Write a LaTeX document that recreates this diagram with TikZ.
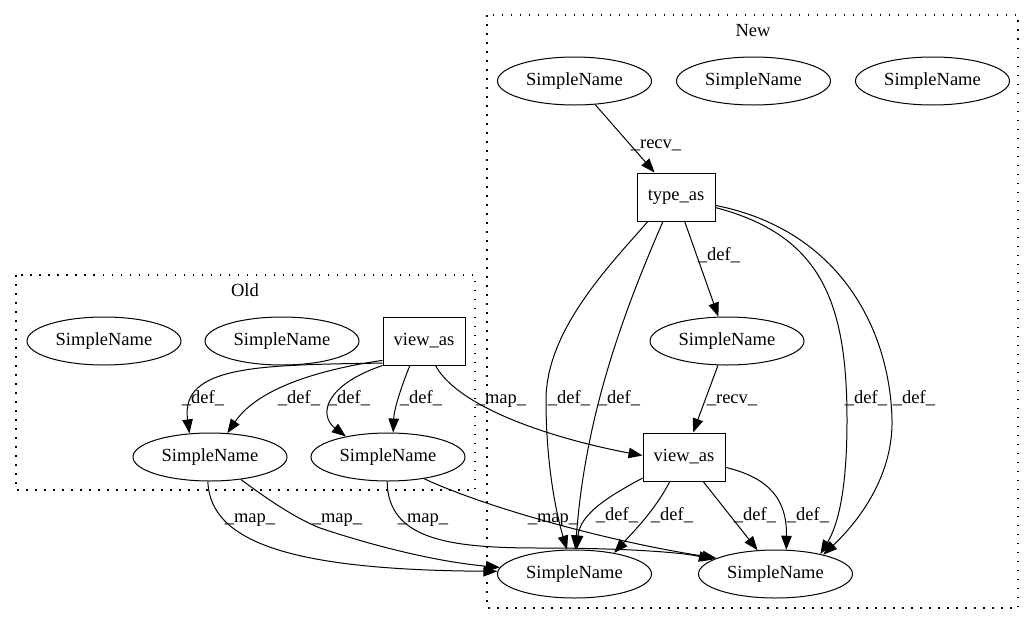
\documentclass[tikz,border=0pt]{standalone}
\usepackage{fontspec}
\setmainfont{Liberation Serif}
\usetikzlibrary{shapes.geometric,arrows.meta}
\begin{document}
\begin{tikzpicture}[x=1pt,y=-1pt,
  every node/.style={font=\fontsize{18.5}{22}\selectfont},
  sn/.style={draw,ellipse,minimum width=154pt,minimum height=48pt,inner sep=0pt,line width=1pt},
  opbox/.style={draw,rectangle,minimum height=48pt,inner sep=0pt,line width=1pt},
  edge/.style={line width=1pt,-{Triangle[length=14pt,width=10.5pt]}},
  lbl/.style={anchor=base,inner sep=0pt},
  cluster/.style={draw,line width=1.1pt,dash pattern=on 1.5pt off 7.5pt},
]
\useasboundingbox (0,0) rectangle (1036,624);
% clusters
\draw[cluster] (16,275) rectangle (475,490);
\node[lbl] (oldlbl) at (245,296) {Old};
\draw[cluster] (487,15) rectangle (1018,608);
\node[lbl] (newlbl) at (753,36) {New};
% Old nodes
\node[sn] (o1) at (104,341) {SimpleName};
\node[sn] (o2) at (282,341) {SimpleName};
\node[opbox,minimum width=82pt] (ov) at (424,341) {view\_as};
\node[sn] (oa) at (210,457) {SimpleName};
\node[sn] (ob) at (388,457) {SimpleName};
% New nodes
\node[sn] (n1) at (574.5,81) {SimpleName};
\node[sn] (n2) at (753.5,81) {SimpleName};
\node[sn] (n3) at (932.5,81) {SimpleName};
\node[opbox,minimum width=78pt] (nt) at (676,197) {type\_as};
\node[sn] (nm) at (727,341) {SimpleName};
\node[opbox,minimum width=82pt] (nv) at (684,457) {view\_as};
\node[sn] (nbl) at (574.5,574) {SimpleName};
\node[sn] (nbr) at (775.5,574) {SimpleName};
% Old edges
\draw[edge] (ov.208) .. controls (260,365) and (180,365) .. (oa.131);
\node[lbl] (l1) at (203,403) {\_def\_};
\draw[edge] (ov.205) .. controls (330,368) and (260,385) .. (oa.54);
\node[lbl] (l2) at (299,403) {\_def\_};
\draw[edge] (ov.south west) .. controls (325,385) and (318,415) .. (ob.154);
\node[lbl] (l3) at (349,403) {\_def\_};
\draw[edge] (ov.240) .. controls (400,390) and (394,410) .. (ob.78);
\node[lbl] (l4) at (421,403) {\_def\_};
\draw[edge] (ov.295) .. controls (460,410) and (560,440) .. (nv.178);
\node[lbl] (l5) at (501,403) {\_map\_};
% map edges to new
\draw[edge] (oa.265) .. controls (210,545) and (300,570) .. (nbl.178);
\node[lbl] (l6) at (250,522) {\_map\_};
\draw[edge] (oa.324) .. controls (275,505) and (300,520) .. (320,528) .. controls (380,548) and (440,562) .. (nbl.175);
\node[lbl] (l7) at (337,522) {\_map\_};
\draw[edge] (ob.268) .. controls (388,540) and (450,548) .. (540,548) .. controls (620,548) and (680,552) .. (nbr.167);
\node[lbl] (l8) at (423,522) {\_map\_};
\draw[edge] (ob.329) .. controls (480,505) and (600,540) .. (nbr.165);
\node[lbl] (l9) at (553,522) {\_map\_};
% New edges
\draw[edge] (n1) -- (nt);
\node[lbl] (l10) at (656,148) {\_recv\_};
\draw[edge] (nt) -- (nm);
\node[lbl] (l11) at (719,260) {\_def\_};
\draw[edge] (nm) -- (nv);
\node[lbl] (l12) at (732,403) {\_recv\_};
\draw[edge] (nt.221) .. controls (610,265) and (546,330) .. (546,400) .. controls (546,470) and (558,520) .. (nbl.107);
\node[lbl] (l13) at (569,403) {\_def\_};
\draw[edge] (nt.242) .. controls (620,320) and (585,420) .. (nbl.88);
\node[lbl] (l14) at (619,403) {\_def\_};
\draw[edge] (nv.207) .. controls (605,498) and (580,515) .. (nbl.85);
\node[lbl] (l15) at (617,520) {\_def\_};
\draw[edge] (nv.240) .. controls (655,510) and (635,530) .. (nbl.28);
\node[lbl] (l16) at (672,520) {\_def\_};
\draw[edge] (nt.345) .. controls (820,235) and (847,300) .. (847,420) .. controls (847,490) and (838,525) .. (nbr.24);
\node[lbl] (l17) at (866,403) {\_def\_};
\draw[edge] (nt.348) .. controls (840,230) and (890,330) .. (892,420) .. controls (893,475) and (860,520) .. (nbr.22);
\node[lbl] (l18) at (914,403) {\_def\_};
\draw[edge] (nv.308) -- (nbr.127);
\node[lbl] (l19) at (755,520) {\_def\_};
\draw[edge] (nv.346) .. controls (770,478) and (787,500) .. (nbr.66);
\node[lbl] (l20) at (808,520) {\_def\_};
\end{tikzpicture}
\end{document}
